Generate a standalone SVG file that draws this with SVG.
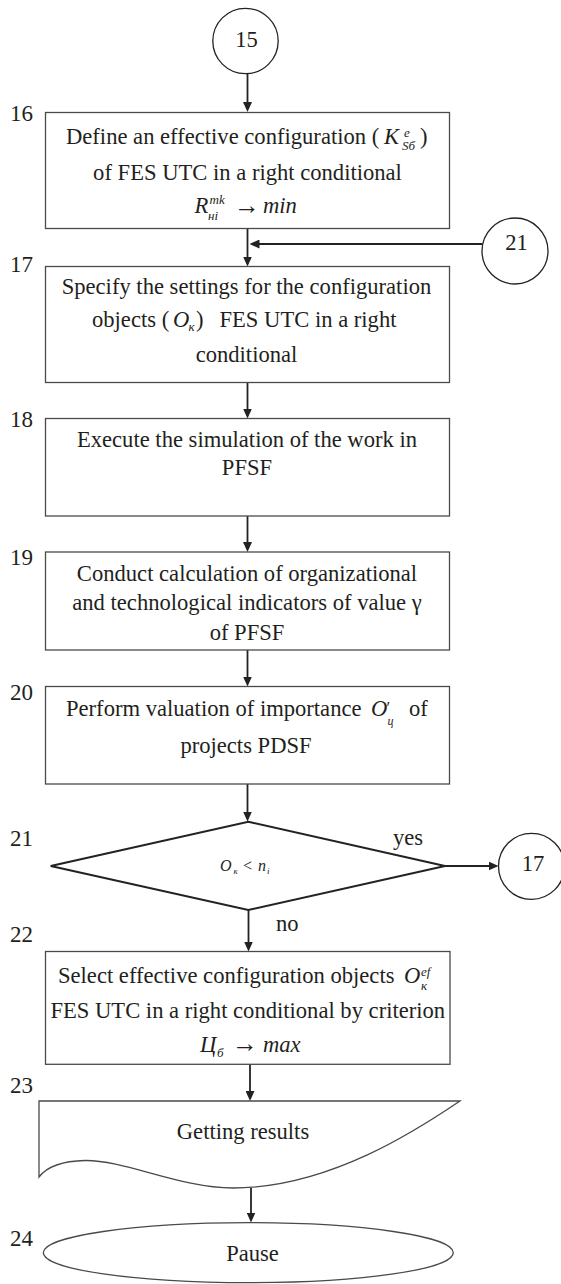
<svg xmlns="http://www.w3.org/2000/svg" width="561" height="1284" viewBox="0 0 561 1284">
<defs>
<style>
.box{fill:#fff;stroke:#4a4a4a;stroke-width:1.3}
.circ{fill:#fff;stroke:#222;stroke-width:1.3}
.dia{fill:#fff;stroke:#222;stroke-width:2}
.t{font-family:"Liberation Serif","Times New Roman",serif;font-size:22.6px;fill:#231f20}
.m{text-anchor:middle}
.lbl{font-family:"Liberation Serif","Times New Roman",serif;font-size:23px;fill:#231f20;text-anchor:end}
.i{font-style:italic}
.s{font-size:13px;font-style:italic}
.ar{font-size:26px}
.con{fill:none;stroke:#222;stroke-width:1.8}
</style>
<marker id="ah" viewBox="0 0 10 9" refX="7" refY="4.5" markerWidth="10" markerHeight="9" markerUnits="userSpaceOnUse" orient="auto">
<path d="M0,0 L10,4.5 L0,9 Z" fill="#222"/>
</marker>
</defs>
<rect width="561" height="1284" fill="#fff"/>

<g id="connectors">
<path class="con" d="M247.5,74 V109" marker-end="url(#ah)"/>
<path class="con" d="M247.5,228.5 V263.5" marker-end="url(#ah)"/>
<path class="con" d="M482,244 H252.5" marker-end="url(#ah)"/>
<path class="con" d="M247.5,382.5 V415.5" marker-end="url(#ah)"/>
<path class="con" d="M247.5,516 V549" marker-end="url(#ah)"/>
<path class="con" d="M247.5,650 V683.5" marker-end="url(#ah)"/>
<path class="con" d="M247.5,784 V818.5" marker-end="url(#ah)"/>
<path class="con" d="M445,866 H495.5" marker-end="url(#ah)"/>
<path class="con" d="M248.5,910 V948.5" marker-end="url(#ah)"/>
<path class="con" d="M250,1064.5 V1098" marker-end="url(#ah)"/>
<path class="con" d="M251,1188 V1219.5" marker-end="url(#ah)"/>
<text class="t" x="393" y="845">yes</text>
<text class="t" x="276" y="931">no</text>
</g>

<g id="node15">
<circle class="circ" cx="245.5" cy="41" r="32.7"/>
<text class="t m" x="246.5" y="47">15</text>
</g>

<g id="node16">
<text class="lbl" x="33" y="121">16</text>
<rect class="box" x="45.5" y="112.5" width="404" height="116"/>
<text class="t"><tspan x="66" y="144">Define an effective configuration (</tspan><tspan class="i" x="384" y="144">K</tspan><tspan class="s" x="404" y="137">e</tspan><tspan class="s" x="402" y="150">Sб</tspan><tspan x="420" y="144">)</tspan></text>
<text class="t m" x="247.5" y="180">of FES UTC in a right conditional</text>
<text class="t"><tspan class="i" x="194.5" y="213.3">R</tspan><tspan class="s" x="209.5" y="204">mk</tspan><tspan class="s" x="208" y="220">нi</tspan><tspan class="ar" x="234" y="214">→</tspan><tspan class="i" x="263" y="213.3">min</tspan></text>
</g>

<g id="node21ref">
<circle class="circ" cx="515" cy="251" r="33"/>
<text class="t m" x="516.5" y="250">21</text>
</g>

<g id="node17">
<text class="lbl" x="33" y="272">17</text>
<rect class="box" x="45.5" y="266.5" width="404" height="116"/>
<text class="t m" x="246.5" y="294">Specify the settings for the configuration</text>
<text class="t"><tspan x="92" y="326.7">objects (</tspan><tspan class="i" x="173" y="326.7">O</tspan><tspan class="s" x="188.5" y="331">к</tspan><tspan x="196" y="326.7">)</tspan><tspan x="219.5" y="326.7">FES UTC in a right</tspan></text>
<text class="t m" x="246.5" y="361.7">conditional</text>
</g>

<g id="node18">
<text class="lbl" x="33" y="427">18</text>
<rect class="box" x="45.5" y="418.5" width="404" height="97.5"/>
<text class="t m" x="247" y="446.7">Execute the simulation of the work in</text>
<text class="t m" x="247" y="475">PFSF</text>
</g>

<g id="node19">
<text class="lbl" x="33" y="565">19</text>
<rect class="box" x="45.5" y="552" width="404" height="98"/>
<text class="t m" x="247" y="580.7">Conduct calculation of organizational</text>
<text class="t m" x="247" y="610">and technological indicators of value γ</text>
<text class="t m" x="247" y="640">of PFSF</text>
</g>

<g id="node20">
<text class="lbl" x="33" y="700">20</text>
<rect class="box" x="45.5" y="686.5" width="404" height="97.5"/>
<text class="t"><tspan x="66" y="716">Perform valuation of importance</tspan><tspan class="i" x="371" y="716">O</tspan><tspan style="font-size:17px" x="386.5" y="712.5">′</tspan><tspan class="s" style="font-size:12px" x="387.5" y="725">ц</tspan><tspan x="409" y="716">of</tspan></text>
<text class="t m" x="246" y="753.3">projects PDSF</text>
</g>

<g id="node21">
<text class="lbl" x="33" y="846">21</text>
<polygon class="dia" points="248.3,821.7 445,866 248.3,910 50.7,866"/>
<text class="t" style="font-size:16px"><tspan class="i" x="220" y="871">O</tspan><tspan class="i" style="font-size:9px" x="233.5" y="874">к</tspan><tspan x="243" y="871">&lt;</tspan><tspan class="i" x="258" y="871">n</tspan><tspan class="i" style="font-size:9px" x="267" y="874">i</tspan></text>
</g>

<g id="node17ref">
<circle class="circ" cx="531.5" cy="866.3" r="33"/>
<text class="t m" x="533" y="871">17</text>
</g>

<g id="node22">
<text class="lbl" x="33" y="942">22</text>
<rect class="box" x="45.5" y="951.5" width="404.5" height="112.8"/>
<text class="t"><tspan x="58" y="983.3">Select effective configuration objects</tspan><tspan class="i" x="404" y="983.3">O</tspan><tspan class="s" x="421" y="976">ef</tspan><tspan class="s" x="421" y="990">к</tspan></text>
<text class="t m" x="247.8" y="1018.3">FES UTC in a right conditional by criterion</text>
<text class="t"><tspan class="i" x="200" y="1051.7">Ц</tspan><tspan class="s" x="217" y="1057">б</tspan><tspan class="ar" x="232" y="1052.4">→</tspan><tspan class="i" x="263" y="1051.7">max</tspan></text>
</g>

<g id="node23">
<text class="lbl" x="33" y="1093.3">23</text>
<path class="box" d="M39,1101 L460,1101 C420,1128 330,1188 233,1188 C180,1188 125,1160 85,1160.5 C60,1161 46,1168 39,1177 Z"/>
<text class="t m" x="243" y="1139.3">Getting results</text>
</g>

<g id="node24">
<text class="lbl" x="33" y="1246">24</text>
<ellipse class="box" cx="248.3" cy="1252.7" rx="205" ry="30"/>
<text class="t m" x="252.5" y="1260.7">Pause</text>
</g>
</svg>
